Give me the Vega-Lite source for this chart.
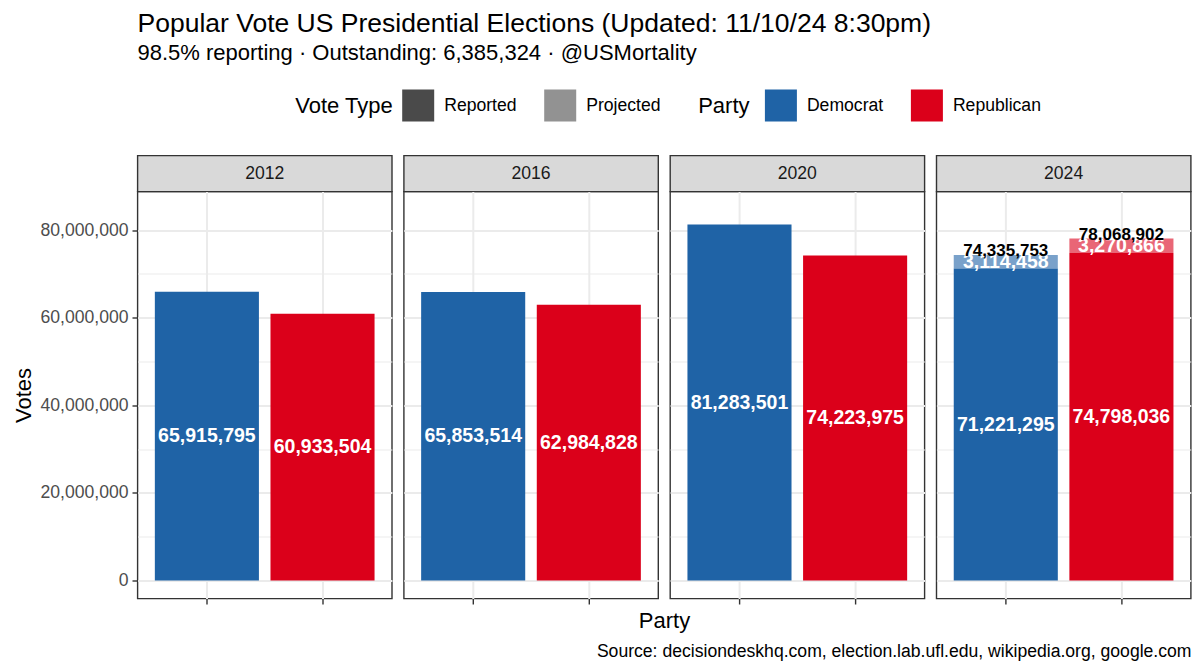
{
  "$schema": "https://vega.github.io/schema/vega-lite/v6.json",
  "padding": {"left": 11.5, "top": 10.5, "right": 5, "bottom": 5},
  "background": "white",
  "datasets": {
    "votes": [
      {"year": "2012", "party": "Democrat", "type": "Reported", "votes": 65915795},
      {"year": "2012", "party": "Republican", "type": "Reported", "votes": 60933504},
      {"year": "2016", "party": "Democrat", "type": "Reported", "votes": 65853514},
      {"year": "2016", "party": "Republican", "type": "Reported", "votes": 62984828},
      {"year": "2020", "party": "Democrat", "type": "Reported", "votes": 81283501},
      {"year": "2020", "party": "Republican", "type": "Reported", "votes": 74223975},
      {"year": "2024", "party": "Democrat", "type": "Reported", "votes": 71221295},
      {"year": "2024", "party": "Democrat", "type": "Projected", "votes": 3114458},
      {"year": "2024", "party": "Republican", "type": "Reported", "votes": 74798036},
      {"year": "2024", "party": "Republican", "type": "Projected", "votes": 3270866}
    ],
    "years": [
      {"year": "2012"}, {"year": "2016"}, {"year": "2020"}, {"year": "2024"}
    ]
  },
  "title": {
    "text": "Popular Vote US Presidential Elections (Updated: 11/10/24 8:30pm)",
    "subtitle": "98.5% reporting · Outstanding: 6,385,324 · @USMortality",
    "anchor": "start",
    "frame": "group",
    "font": "Liberation Sans",
    "fontSize": 26.5,
    "fontWeight": "normal",
    "color": "black",
    "subtitleFont": "Liberation Sans",
    "subtitleFontSize": 22,
    "subtitleColor": "black",
    "subtitlePadding": 6,
    "offset": 25.5
  },
  "spacing": 36,
  "bounds": "flush",
  "vconcat": [
    {
      "data": {"name": "years"},
      "bounds": "flush",
      "facet": {
        "column": {"field": "year", "type": "ordinal", "header": {"labels": false, "title": null}}
      },
      "spacing": 11.3,
      "spec": {
        "width": 254.4,
        "height": 36,
        "view": {"fill": "#D9D9D9", "stroke": "#333333", "strokeWidth": 1.4},
        "mark": {"type": "text", "font": "Liberation Sans", "fontSize": 17.6, "color": "#1A1A1A", "baseline": "middle"},
        "encoding": {"text": {"field": "year"}}
      }
    },
    {
      "data": {"name": "votes"},
      "bounds": "flush",
      "title": {
        "text": "Source: decisiondeskhq.com, election.lab.ufl.edu, wikipedia.org, google.com",
        "orient": "bottom",
        "anchor": "end",
        "frame": "bounds",
        "font": "Liberation Sans",
        "fontSize": 17.6,
        "fontWeight": "normal",
        "color": "black",
        "offset": 11
      },
      "facet": {
        "column": {
          "field": "year",
          "type": "ordinal",
          "header": {
            "labels": false,
            "title": "Party",
            "titleOrient": "bottom",
            "titleFont": "Liberation Sans",
            "titleFontSize": 22,
            "titleFontWeight": "normal",
            "titleColor": "black",
            "titlePadding": -5
          }
        }
      },
      "spacing": 11.3,
      "spec": {
        "width": 254.4,
        "height": 407,
        "encoding": {
          "x": {
            "field": "party",
            "type": "nominal",
            "scale": {"paddingInner": 0.1, "paddingOuter": 0.15},
            "axis": {
              "title": null,
              "labels": false,
              "ticks": true,
              "grid": true,
              "bandPosition": 0.5,
              "gridWidth": 2,
              "domain": false
            }
          }
        },
        "layer": [
          {
            "mark": {"type": "bar"},
            "encoding": {
              "y": {
                "field": "votes",
                "type": "quantitative",
                "stack": "zero",
                "title": "Votes",
                "scale": {"domain": [-4110000, 88830000], "nice": false, "zero": false},
                "axis": {
                  "values": [0, 10000000, 20000000, 30000000, 40000000, 50000000, 60000000, 70000000, 80000000],
                  "labelExpr": "datum.value % 20000000 == 0 ? format(datum.value, ',') : ''",
                  "labelOverlap": false,
                  "labelPadding": 4,
                  "titlePadding": 4.6,
                  "tickOpacity": {"condition": {"test": "datum.value % 20000000 == 0", "value": 1}, "value": 0},
                  "gridWidth": {"condition": {"test": "datum.value % 20000000 == 0", "value": 2}, "value": 1}
                }
              },
              "color": {
                "field": "party",
                "type": "nominal",
                "scale": {"domain": ["Democrat", "Republican"], "range": ["#1F63A6", "#DB001A"]},
                "legend": {
                  "title": "Party",
                  "orient": "none",
                  "legendX": 560.7,
                  "legendY": -66,
                  "direction": "horizontal",
                  "titlePadding": 14.7
                }
              },
              "opacity": {
                "field": "type",
                "type": "nominal",
                "scale": {"domain": ["Reported", "Projected"], "range": [1, 0.6]},
                "legend": {
                  "title": "Vote Type",
                  "orient": "none",
                  "legendX": 157.7,
                  "legendY": -66,
                  "direction": "horizontal",
                  "titlePadding": 9,
                  "symbolFillColor": "#4A4A4A",
                  "symbolOpacity": 1
                }
              },
              "order": {"field": "type", "sort": "descending"}
            }
          },
          {
            "mark": {"type": "text", "font": "Liberation Sans", "fontSize": 19.5, "fontWeight": "bold", "color": "white", "baseline": "middle"},
            "encoding": {
              "y": {"field": "votes", "type": "quantitative", "stack": "zero", "bandPosition": 0.5},
              "detail": {"field": "type", "type": "nominal"},
              "order": {"field": "type", "sort": "descending"},
              "text": {"field": "votes", "type": "quantitative", "format": ",d"}
            }
          },
          {
            "transform": [
              {"filter": "datum.year == '2024'"},
              {"aggregate": [{"op": "sum", "field": "votes", "as": "total"}], "groupby": ["year", "party"]}
            ],
            "mark": {"type": "text", "font": "Liberation Sans", "fontSize": 17, "fontWeight": "bold", "color": "black", "baseline": "middle", "dy": -4},
            "encoding": {
              "y": {"field": "total", "type": "quantitative"},
              "text": {"field": "total", "type": "quantitative", "format": ",d"}
            }
          }
        ]
      }
    }
  ],
  "config": {
    "font": "Liberation Sans",
    "view": {"stroke": "#333333", "strokeWidth": 1.4},
    "axis": {
      "labelFont": "Liberation Sans",
      "labelFontSize": 17.6,
      "labelColor": "#4D4D4D",
      "tickColor": "#333333",
      "tickWidth": 1.4,
      "tickSize": 5.5,
      "domain": false,
      "gridColor": "#EBEBEB",
      "titleFont": "Liberation Sans",
      "titleFontSize": 22,
      "titleFontWeight": "normal",
      "titleColor": "black"
    },
    "legend": {
      "padding": 0,
      "symbolType": "square",
      "symbolSize": 1024,
      "symbolStrokeWidth": 0,
      "labelFont": "Liberation Sans",
      "labelFontSize": 17.6,
      "labelColor": "black",
      "labelOffset": 10,
      "columnPadding": 27,
      "titleFont": "Liberation Sans",
      "titleFontSize": 22,
      "titleFontWeight": "normal",
      "titleColor": "black",
      "titleOrient": "left",
      "titleBaseline": "middle",
      "titleAnchor": "middle"
    }
  }
}
